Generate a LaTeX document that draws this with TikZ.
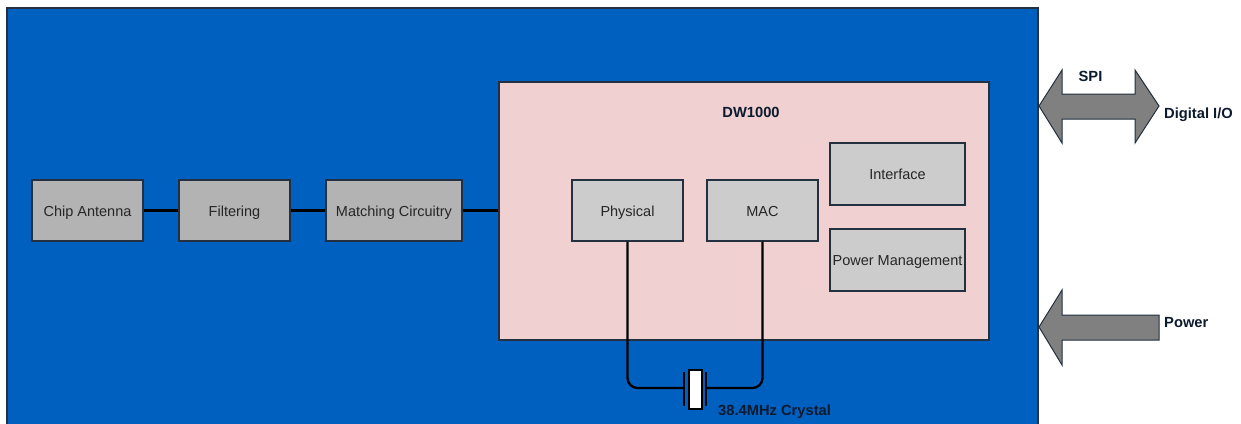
\documentclass[tikz,border=0pt]{standalone}
\usepackage{fontspec}
\setmainfont{Liberation Sans}
\definecolor{boardblue}{HTML}{0060C0}
\definecolor{pinkbg}{HTML}{F0D0D0}
\definecolor{midgray}{HTML}{B3B3B3}
\definecolor{lightgray2}{HTML}{CCCCCC}
\definecolor{arrowgray}{HTML}{808080}
\definecolor{edgec}{HTML}{22303F}
\definecolor{labelc}{HTML}{0C1A2E}
\tikzset{
  x=1pt,y=-1pt,
  block/.style={draw=edgec,line width=1.2pt,rectangle,inner sep=0pt,text=black!85,font=\fontsize{14.5}{16}\selectfont,minimum height=61pt,text height=11pt,text depth=0pt},
  outerblock/.style={block,fill=midgray},
  innerblock/.style={block,fill=lightgray2},
  wire/.style={draw=black,line width=2.3pt},
  plate/.style={draw=black,line width=2.2pt},
  bigarrow/.style={draw=edgec,line width=1pt,fill=arrowgray,line join=miter},
  boldlabel/.style={font=\bfseries\fontsize{14.7}{16}\selectfont,text=labelc,inner sep=0pt}
}
\begin{document}
\begin{tikzpicture}
\useasboundingbox (0,0) rectangle (1241,423);
\begin{scope}
\clip (0,0) rectangle (1241,423);
\draw[draw=edgec,line width=1.2pt,fill=boardblue] (7,8) rectangle (1038,430);
\end{scope}
\node[draw=edgec,line width=1.2pt,fill=pinkbg,minimum width=490pt,minimum height=258pt,inner sep=0pt] (dw) at (744,211) {};
\node[boldlabel] (dwlabel) at (751,112.5) {DW1000};
\node[outerblock,minimum width=111pt] (chip) at (87.5,210.5) {Chip Antenna};
\node[outerblock,minimum width=111pt] (filt) at (234.5,210.5) {Filtering};
\node[outerblock,minimum width=136pt] (match) at (394,210.5) {Matching Circuitry};
\node[innerblock,minimum width=111pt] (phys) at (627.5,210.5) {Physical};
\node[innerblock,minimum width=111pt] (mac) at (762.5,210.5) {MAC};
\node[innerblock,minimum width=135pt,minimum height=62pt] (iface) at (897.5,174) {Interface};
\node[innerblock,minimum width=135pt,minimum height=62pt] (pm) at (897.5,260) {Power Management};
\draw[wire] (chip) -- (filt);
\draw[wire] (filt) -- (match);
\draw[wire] (match) -- (dw.west |- match);
% crystal
\node[draw=black,line width=2pt,fill=white,minimum width=13pt,minimum height=39pt,inner sep=0pt] (xtal) at (695,389) {};
\coordinate (pl) at (684,388);
\coordinate (pr) at (706,388);
\draw[plate] (684,372) -- (684,406);
\draw[plate] (706,372) -- (706,406);
\draw[wire,rounded corners=10pt] (phys.south) -- (phys.south |- pl) -- (pl);
\draw[wire,rounded corners=10pt] (mac.south) -- (mac.south |- pr) -- (pr);
\node[boldlabel,anchor=west] (xlabel) at (718,411.5) {38.4MHz Crystal};
% arrows
\draw[bigarrow] (1039,106) -- (1062,70) -- (1062,94) -- (1135,94) -- (1135,70) -- (1159,106) -- (1135,143) -- (1135,119) -- (1062,119) -- (1062,143) -- cycle;
\draw[bigarrow] (1039,327) -- (1062,290) -- (1062,315) -- (1159,315) -- (1159,340) -- (1062,340) -- (1062,365) -- cycle;
\node[boldlabel] (spi) at (1090.5,76) {SPI};
\node[boldlabel,anchor=west] (dio) at (1164,114.5) {Digital I/O};
\node[boldlabel,anchor=west] (pwr) at (1164,323) {Power};
\end{tikzpicture}
\end{document}
